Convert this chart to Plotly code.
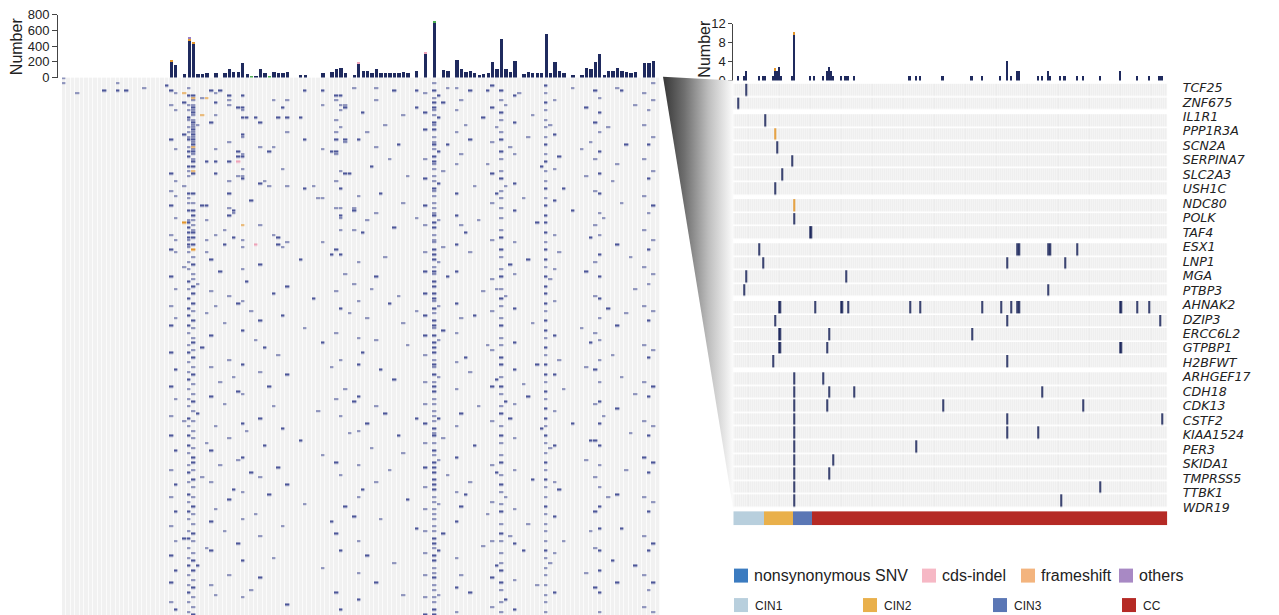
import numpy as np
import plotly.graph_objects as go

W, H = 1279, 624
FONT = "Liberation Sans, Arial, sans-serif"

# ------------------------------------------------------------------
# Right panel (zoomed oncoprint): genes, stages, mutations
# ------------------------------------------------------------------
genes = ["TCF25", "ZNF675", "IL1R1", "PPP1R3A", "SCN2A", "SERPINA7", "SLC2A3", "USH1C",
         "NDC80", "POLK", "TAF4", "ESX1", "LNP1", "MGA", "PTBP3", "AHNAK2", "DZIP3",
         "ERCC6L2", "GTPBP1", "H2BFWT", "ARHGEF17", "CDH18", "CDK13", "CSTF2", "KIAA1524",
         "PER3", "SKIDA1", "TMPRSS5", "TTBK1", "WDR19"]
gene_group_sizes = [2, 6, 3, 4, 5, 10]

stage_names = ["CIN1", "CIN2", "CIN3", "CC"]
stage_sizes = [15, 14, 9, 172]
stage_colors = ["#b8cfdd", "#e9b04b", "#5b77b5", "#b52a25"]

# sample indices carrying a nonsynonymous SNV, one list per gene (same order as genes)
right_snv = [
    [6], [2], [15], [], [21], [28], [23], [20], [], [29], [37],
    [12, 137, 138, 152, 153, 166],
    [14, 132, 160],
    [6, 54],
    [5, 152],
    [22, 39, 52, 55, 85, 90, 120, 129, 134, 137, 138, 187, 195, 201],
    [20, 132, 206],
    [22, 46, 115],
    [22, 45, 187],
    [19, 132],
    [29, 43],
    [29, 46, 58, 149],
    [29, 45, 101, 169],
    [29, 132, 207],
    [29, 132, 147],
    [29, 88],
    [29, 48],
    [29, 46],
    [29, 177],
    [29, 158],
]
# sample indices carrying a frameshift, one list per gene
right_frameshift = [[], [], [], [20], [], [], [], [], [29], [], [],
                    [], [], [], [], [], [], [], [], [], [], [], [], [], [], [], [], [], [], []]

# per-sample mutation counts (top bar chart of right panel)
right_bar_sample = [2, 5, 6, 12, 14, 15, 19, 20, 21, 22, 23, 28, 29, 37, 39, 43, 45, 46, 47, 48,
                    52, 54, 55, 58, 85, 88, 90, 101, 115, 120, 129, 132, 134, 137, 138, 147, 149,
                    152, 153, 158, 160, 166, 169, 177, 187, 195, 201, 206, 207]
right_bar_snv = [1, 1, 2, 1, 1, 1, 1, 2, 2, 3, 1, 1, 9.6, 1, 1, 1, 2, 3, 2, 1,
                 1, 1, 1, 1, 1, 1, 1, 1, 1, 1, 1, 4.3, 1, 2, 2, 1, 1,
                 2, 1, 1, 1, 1, 1, 1, 2, 1, 1, 1, 1]
right_bar_fs = [0, 0, 0, 0, 0, 0, 0, 0.8, 0, 0, 0, 0, 0.7, 0, 0, 0, 0, 0, 0, 0,
                0, 0, 0, 0, 0, 0, 0, 0, 0, 0, 0, 0, 0, 0, 0, 0, 0,
                0, 0, 0, 0, 0, 0, 0, 0, 0, 0, 0, 0]

# ------------------------------------------------------------------
# Left panel (full oncoprint overview)
# ------------------------------------------------------------------
N_LEFT_SAMPLES = 134
N_LEFT_GENES = 220

left_bar_sample = [24, 25, 27, 28, 29, 30, 31, 32, 34, 36, 37, 38, 39, 40, 41, 42, 43, 44, 45, 46,
                   47, 48, 49, 50, 53, 54, 58, 60, 61, 62, 63, 65, 66, 67, 68, 69, 70, 71, 72, 73,
                   74, 75, 76, 77, 79, 81, 83, 85, 86, 88, 89, 90, 91, 92, 93, 94, 95, 96, 97, 98,
                   99, 100, 101, 103, 104, 105, 106, 107, 108, 109, 110, 111, 112, 114, 116, 117,
                   118, 119, 120, 121, 122, 123, 124, 125, 126, 127, 128, 130, 131, 132]
left_bar_snv = [215, 160, 50, 470, 430, 50, 50, 60, 60, 60, 110, 70, 80, 190, 50, 0, 30, 110, 60, 0,
                70, 60, 60, 80, 40, 40, 60, 70, 110, 120, 60, 40, 180, 90, 90, 60, 110, 60, 60, 60,
                60, 60, 80, 60, 90, 310, 710, 100, 90, 230, 110, 70, 90, 60, 40, 50, 60, 200, 110, 500,
                110, 80, 210, 50, 80, 60, 60, 60, 560, 60, 200, 90, 60, 40, 40, 130,
                110, 200, 310, 40, 90, 90, 130, 90, 70, 60, 80, 190, 190, 210]
left_bar_fs_sample = [24, 28, 29]
left_bar_fs = [15, 35, 30]
left_bar_others_sample = [28]
left_bar_others = [15]
left_bar_indel_sample = [66, 81]
left_bar_indel = [10, 10]
left_bar_green_sample = [42, 46, 83]
left_bar_green = [30, 30, 12]

# (sample, [gene rows]) for nonsynonymous SNVs in the overview
left_snv_marks = [
    (0, [0, 2]), (3, [6]), (9, [5]), (12, [2, 5]), (14, [5]), (18, [4]), (23, [3]),
    (24, [5, 11, 25, 39, 46, 52, 64, 70, 81, 93, 101, 112, 126, 138, 146, 160, 171, 183, 195, 206, 214]),
    (25, [6, 13, 29, 42, 48, 57, 66, 71, 86, 98, 119, 131, 152, 166, 177, 189, 201, 217]),
    (27, [10, 23, 44, 77, 140, 188]),
    (28, [4, 7, 11, 13, 16, 17, 20, 22, 24, 25, 28, 30, 32, 36, 38, 40, 47, 49, 51, 54, 58, 59,
          61, 63, 65, 66, 68, 69, 71, 75, 78, 83, 86, 90, 94, 97, 101, 104, 109, 112, 116, 120,
          123, 127, 131, 134, 139, 142, 146, 150, 153, 158, 161, 165, 170, 173, 177, 180, 185,
          188, 192, 196, 199, 203, 207, 210, 214, 218]),
    (29, [7, 9, 11, 12, 13, 14, 15, 17, 18, 19, 20, 21, 22, 23, 24, 25, 26, 27, 29, 30, 31, 33,
          34, 36, 39, 47, 51, 54, 56, 58, 60, 62, 63, 65, 68, 73, 76, 80, 82, 85, 88, 92, 95, 99,
          102, 106, 108, 111, 114, 118, 121, 125, 129, 132, 136, 140, 144, 147, 151, 155, 157,
          160, 164, 167, 171, 175, 178, 182, 186, 189, 194, 197, 201, 205, 208, 212, 216, 219]),
    (30, [19, 84, 137, 199]),
    (31, [8, 52, 110, 163]),
    (32, [34, 52, 58, 66, 71, 96, 149, 192]),
    (33, [5, 18, 74, 87, 105, 118, 130, 152, 165, 181, 193, 207]),
    (34, [6, 10, 15, 29, 34, 39, 64, 93, 142, 176, 211]),
    (35, [5, 79, 124, 158]),
    (36, [62, 68, 100, 133, 185]),
    (37, [7, 9, 11, 26, 34, 42, 47, 53, 56, 89, 115, 147, 172, 203]),
    (38, [54, 55, 65, 122, 168]),
    (39, [12, 30, 32, 40, 92, 128, 156, 190]),
    (40, [7, 12, 13, 16, 23, 24, 31, 32, 37, 40, 41, 66, 69, 78, 91, 103, 117, 129, 141, 155,
          169, 180, 197, 212]),
    (41, [16, 83, 144]), (42, [50, 95, 161, 209]), (43, [16, 107, 178]),
    (44, [18, 28, 43, 60, 76, 99, 120, 139, 163, 187, 204]),
    (45, [42, 110, 150]), (46, [30, 44, 126, 170]), (47, [9, 28, 64, 88, 134, 196]),
    (48, [16, 65, 68, 113, 159]), (49, [12, 37, 69, 97, 143, 183]),
    (50, [9, 16, 22, 44, 67, 85, 121, 166, 215]),
    (53, [16, 74, 148]), (54, [5, 25, 45, 102, 174]), (56, [44, 90]), (57, [49, 136]),
    (58, [5, 11, 29, 49, 67, 108, 154, 200]), (60, [30, 72, 118, 181]),
    (61, [7, 9, 17, 22, 25, 30, 31, 42, 53, 70, 87, 104, 131, 157, 186, 210]),
    (62, [7, 11, 13, 20, 38, 45, 53, 56, 57, 62, 72, 94, 115, 138, 162, 193, 217]),
    (63, [11, 12, 25, 26, 39, 80, 127, 175]), (64, [39, 96, 145]),
    (65, [4, 53, 54, 62, 84, 132, 179]),
    (66, [25, 48, 75, 91, 106, 117, 130, 144, 158, 171, 189, 202, 213]),
    (67, [14, 63, 112, 168]), (68, [22, 58, 98, 141, 195]), (69, [36, 86, 151]),
    (70, [4, 9, 28, 55, 81, 107, 134, 165, 206]), (71, [47, 119, 180]), (72, [19, 73, 137]),
    (73, [33, 92, 160]), (74, [5, 61, 123, 198]), (75, [27, 89, 146]),
    (76, [15, 51, 100, 153, 211]), (77, [40, 109, 172]), (79, [5, 12, 57, 95, 139, 184]),
    (81, [6, 14, 21, 33, 41, 52, 60, 71, 79, 88, 97, 105, 113, 124, 133, 141, 149, 159, 167,
          176, 185, 194, 203, 212, 219]),
    (83, [2, 5, 8, 10, 12, 13, 15, 18, 19, 21, 24, 26, 27, 29, 32, 34, 35, 37, 40, 42, 45, 46,
          48, 51, 53, 55, 56, 59, 61, 64, 66, 67, 70, 72, 74, 77, 79, 80, 83, 85, 88, 90, 91, 94,
          96, 99, 101, 102, 105, 108, 110, 112, 115, 117, 118, 121, 124, 126, 128, 131, 133, 136,
          138, 140, 143, 145, 146, 149, 152, 154, 157, 159, 161, 164, 166, 168, 171, 173, 176,
          178, 180, 183, 185, 188, 190, 192, 195, 197, 200, 202, 204, 207, 209, 212, 214, 217, 219]),
    (84, [7, 16, 30, 43, 58, 75, 93, 107, 122, 139, 156, 174, 193, 211]),
    (85, [10, 38, 69, 103, 147, 186]), (86, [4, 27, 81, 162]),
    (88, [4, 13, 22, 35, 47, 56, 68, 79, 92, 104, 116, 127, 142, 155, 169, 181, 196, 208, 218]),
    (89, [9, 31, 60, 98, 137, 175, 203]), (90, [19, 63, 114, 170]),
    (91, [5, 25, 71, 120, 165, 210]), (92, [44, 97, 150]), (93, [58, 134]), (94, [16, 87, 191]),
    (95, [5, 35, 109, 178]),
    (96, [3, 12, 26, 39, 51, 66, 82, 95, 111, 126, 140, 158, 173, 189, 204, 216]),
    (97, [20, 47, 86, 123, 161, 199]),
    (98, [5, 9, 14, 17, 22, 25, 30, 33, 38, 41, 46, 49, 53, 57, 62, 65, 70, 73, 78, 81, 86, 90,
          93, 98, 101, 106, 109, 114, 117, 122, 126, 129, 134, 137, 142, 146, 149, 154, 157, 162,
          166, 169, 174, 177, 182, 186, 189, 194, 198, 201, 206, 209, 214, 218]),
    (99, [11, 44, 89, 132, 171, 213]), (100, [28, 76, 139, 187]),
    (101, [7, 18, 31, 43, 54, 67, 80, 94, 108, 119, 133, 147, 160, 176, 190, 205, 217]),
    (102, [6]), (103, [49, 125, 193]), (104, [24, 74, 130, 182]), (105, [15, 100, 164]),
    (106, [59, 117, 207]), (107, [36, 143]),
    (108, [3, 6, 10, 13, 17, 20, 24, 27, 31, 34, 38, 42, 45, 49, 52, 56, 59, 63, 67, 70, 74, 77,
           81, 85, 88, 92, 95, 99, 103, 106, 110, 113, 117, 121, 124, 128, 131, 135, 139, 142, 146,
           149, 153, 157, 160, 164, 167, 171, 175, 178, 182, 185, 189, 193, 196, 200, 203, 207,
           211, 214, 218]),
    (109, [19, 82, 151, 198]),
    (110, [9, 23, 37, 50, 64, 78, 91, 105, 121, 136, 150, 165, 179, 194, 210]),
    (111, [32, 71, 115, 168]), (112, [45, 127, 189]), (114, [4, 54, 141]), (116, [29, 102]),
    (117, [12, 40, 79, 118, 156, 202]), (118, [26, 65, 108, 148, 185]),
    (119, [5, 18, 33, 46, 60, 75, 89, 104, 119, 133, 148, 163, 177, 192, 208]),
    (120, [8, 14, 22, 30, 39, 47, 55, 64, 72, 81, 90, 98, 107, 115, 124, 132, 141, 150, 158,
           167, 175, 184, 193, 201, 210, 218]),
    (121, [57, 138]), (122, [20, 94, 171]), (123, [42, 113, 197]),
    (124, [4, 35, 68, 101, 135, 170, 206]), (125, [5, 51, 122, 184]), (126, [27, 96, 160]),
    (127, [73, 145]), (128, [11, 86, 129, 199]),
    (130, [6, 19, 33, 48, 62, 77, 93, 109, 124, 140, 155, 171, 187, 203, 216]),
    (131, [13, 27, 41, 55, 70, 84, 99, 114, 130, 146, 161, 177, 193, 209]),
    (132, [2, 9, 24, 38, 52, 66, 80, 95, 111, 126, 142, 157, 173, 190, 206, 218]),
]
left_fs_marks = [(27, [6, 59]), (29, [8, 28, 38, 70]), (31, [15]), (32, [8]), (40, [60])]
left_indel_marks = [(39, [34]), (43, [68])]

# ------------------------------------------------------------------
# colours
# ------------------------------------------------------------------
NAVY = "#1f2a5e"
NAVY_L = "#4d5799"
ORANGE = "#e3962b"
PINK = "#eea3b8"
PURPLE = "#9b7fc2"
GREEN = "#4caf50"
GRID_BG = "#ececec"


def px(x):
    return x / W


def py(y):
    # y given in screen pixels of the target picture; mapped to figure paper coords
    yf = (y - 6.3) / 0.977
    return 1 - yf / H


fig = go.Figure()

# ---------------- left overview heatmap ----------------
left_bg = np.zeros((N_LEFT_GENES, N_LEFT_SAMPLES))
left_mut = np.full((N_LEFT_GENES, N_LEFT_SAMPLES), np.nan)
for col, rows in left_snv_marks:
    for r in rows:
        left_mut[r, col] = 1
for col, rows in left_fs_marks:
    for r in rows:
        left_mut[r, col] = 2
for col, rows in left_indel_marks:
    for r in rows:
        left_mut[r, col] = 3

fig.add_trace(go.Heatmap(z=left_bg, x=list(range(N_LEFT_SAMPLES)), y=list(range(N_LEFT_GENES)),
                         colorscale=[[0, "#f1f1f1"], [1, "#f1f1f1"]], zmin=0, zmax=1,
                         showscale=False, xgap=0.7, ygap=0, hoverinfo="skip",
                         xaxis="x", yaxis="y"))
fig.add_trace(go.Heatmap(z=left_mut, x=list(range(N_LEFT_SAMPLES)), y=list(range(N_LEFT_GENES)),
                         colorscale=[[0, NAVY_L], [0.25, NAVY_L], [0.25, ORANGE], [0.5, ORANGE],
                                     [0.5, PINK], [0.75, PINK], [0.75, PURPLE], [1, PURPLE]],
                         zmin=0.5, zmax=4.5, showscale=False, xgap=0.6, ygap=0.7,
                         hoverinfo="skip", xaxis="x", yaxis="y"))

# ---------------- left top bars ----------------
for xs, vals, col in [(left_bar_sample, left_bar_snv, NAVY),
                      (left_bar_fs_sample, left_bar_fs, ORANGE),
                      (left_bar_others_sample, left_bar_others, PURPLE),
                      (left_bar_indel_sample, left_bar_indel, PINK),
                      (left_bar_green_sample, left_bar_green, GREEN)]:
    fig.add_trace(go.Bar(x=xs, y=vals, marker=dict(color=col, line=dict(width=0)), width=0.75,
                         xaxis="x", yaxis="y2", hoverinfo="skip"))

# ---------------- right heatmap ----------------
n_right = sum(stage_sizes)
GAP = 0.25
row_pos = []
i = 0
for g, size in enumerate(gene_group_sizes):
    for _ in range(size):
        row_pos.append(i + GAP * g)
        i += 1

right_mut = np.full((len(genes), n_right), np.nan)
for gi, samples in enumerate(right_snv):
    for s in samples:
        right_mut[gi, s] = 1
for gi, samples in enumerate(right_frameshift):
    for s in samples:
        right_mut[gi, s] = 2

start = 0
for size in gene_group_sizes:
    sl = slice(start, start + size)
    fig.add_trace(go.Heatmap(z=np.zeros((size, n_right)), x=list(range(n_right)), y=row_pos[sl],
                             colorscale=[[0, GRID_BG], [1, GRID_BG]], zmin=0, zmax=1,
                             showscale=False, xgap=0.6, ygap=1.6, hoverinfo="skip",
                             xaxis="x3", yaxis="y3"))
    fig.add_trace(go.Heatmap(z=right_mut[sl], x=list(range(n_right)), y=row_pos[sl],
                             colorscale=[[0, NAVY], [0.5, NAVY], [0.5, ORANGE], [1, ORANGE]],
                             zmin=0.5, zmax=2.5, showscale=False, xgap=0.2, ygap=1.6,
                             hoverinfo="skip", xaxis="x3", yaxis="y3"))
    start += size

# gene labels (evenly spaced axis)
fig.add_trace(go.Scatter(x=[0] * len(genes), y=list(range(len(genes))), mode="markers",
                         marker=dict(opacity=0), hoverinfo="skip", xaxis="x3", yaxis="y6"))

# ---------------- right top bars ----------------
fig.add_trace(go.Bar(x=right_bar_sample, y=right_bar_snv, marker=dict(color=NAVY, line=dict(width=0)),
                     width=0.8, xaxis="x3", yaxis="y4", hoverinfo="skip"))
fig.add_trace(go.Bar(x=right_bar_sample, y=right_bar_fs, marker=dict(color=ORANGE, line=dict(width=0)),
                     width=0.8, xaxis="x3", yaxis="y4", hoverinfo="skip"))

# ---------------- stage colour bar ----------------
stage_of_sample = []
for k, size in enumerate(stage_sizes):
    stage_of_sample += [k] * size
cs = []
for k, c in enumerate(stage_colors):
    cs += [[k / 4, c], [(k + 1) / 4, c]]
fig.add_trace(go.Heatmap(z=[stage_of_sample], x=list(range(n_right)), y=[0], colorscale=cs,
                         zmin=-0.5, zmax=3.5, showscale=False, hoverinfo="skip",
                         xaxis="x3", yaxis="y5"))

# ---------------- zoom funnel (decoration) ----------------
L_RIGHT = 660
R_LEFT = 733.3
fy = [py(v) for v in (76, 80, 509, 76)]
fig.add_trace(go.Scatter(x=[L_RIGHT + 3, R_LEFT, R_LEFT, L_RIGHT + 3],
                         y=fy, mode="lines", line=dict(width=0),
                         fill="toself",
                         fillgradient=dict(type="horizontal",
                                           colorscale=[[0, "rgb(55,55,55)"], [0.3, "rgb(110,110,110)"],
                                                       [0.65, "rgb(190,190,190)"], [1, "rgb(252,252,252)"]]),
                         hoverinfo="skip", xaxis="x7", yaxis="y7"))

axis_common = dict(showgrid=False, zeroline=False)
fig.update_layout(
    width=W, height=H, margin=dict(l=0, r=0, t=0, b=0),
    paper_bgcolor="white", plot_bgcolor="rgba(0,0,0,0)",
    barmode="stack", bargap=0, showlegend=False,
    font=dict(family=FONT, color="#222"),
    xaxis=dict(domain=[px(62), px(L_RIGHT)], range=[-0.5, N_LEFT_SAMPLES - 0.5],
               visible=False, anchor="y", **axis_common),
    yaxis=dict(domain=[0, py(76.8)], range=[N_LEFT_GENES - 0.5, -0.5], visible=False,
               anchor="x", **axis_common),
    yaxis2=dict(domain=[py(77), py(14)], range=[0, 800], anchor="free", position=px(57),
                showline=True, linecolor="#444", linewidth=1, ticks="outside", ticklen=5,
                tickcolor="#444", tickvals=[0, 200, 400, 600, 800], tickfont=dict(size=13),
                **axis_common),
    xaxis3=dict(domain=[px(R_LEFT), px(1167.3)], range=[-0.5, n_right - 0.5], visible=False,
                anchor="y3", **axis_common),
    yaxis3=dict(domain=[py(508), py(83)], range=[row_pos[-1] + 0.5, -0.5], visible=False,
                anchor="x3", **axis_common),
    yaxis4=dict(domain=[py(80), py(23)], range=[0, 12], anchor="x3", showline=True,
                linecolor="#444", linewidth=1, ticks="outside", ticklen=4, tickcolor="#444",
                tickvals=[0, 4, 8, 12], tickfont=dict(size=13), **axis_common),
    yaxis5=dict(domain=[py(525), py(511)], range=[-0.5, 0.5], visible=False, anchor="x3",
                **axis_common),
    yaxis6=dict(overlaying="y3", side="right", anchor="x3", range=[29.067, -0.277],
                tickvals=list(range(len(genes))), ticktext=genes, ticks="outside", ticklen=12,
                tickcolor="rgba(0,0,0,0)", showline=False,
                tickfont=dict(family="DejaVu Sans, Liberation Sans, sans-serif", size=12.6,
                              style="italic", color="#222"), **axis_common),
    xaxis7=dict(domain=[0, 1], range=[0, W], visible=False, anchor="y7", **axis_common),
    yaxis7=dict(domain=[0, 1], range=[0, 1], visible=False, anchor="x7", **axis_common),
)

annotations = [
    dict(x=px(16), y=py(45.5), text="Number", textangle=-90, font=dict(size=16)),
    dict(x=px(705), y=py(48), text="Number", textangle=-90, font=dict(size=16)),
]
shapes = []

legend_mut = [("nonsynonymous SNV", "#3b7bc0", 734), ("cds-indel", "#f6b8c5", 922),
              ("frameshift", "#f3b47e", 1021), ("others", "#a889c4", 1119)]
for label, col, x0 in legend_mut:
    shapes.append(dict(type="rect", xref="paper", yref="paper", x0=px(x0), x1=px(x0 + 14),
                       y0=py(582.5), y1=py(568.5), fillcolor=col, line=dict(width=0)))
    annotations.append(dict(x=px(x0 + 18), y=py(575.5), text=label, xanchor="left",
                            font=dict(size=16)))

legend_stage_x = [734, 863, 993, 1122]
for name, col, x0 in zip(stage_names, stage_colors, legend_stage_x):
    shapes.append(dict(type="rect", xref="paper", yref="paper", x0=px(x0), x1=px(x0 + 14),
                       y0=py(612), y1=py(598), fillcolor=col, line=dict(width=0)))
    annotations.append(dict(x=px(x0 + 19), y=py(605.5), text=name, xanchor="left",
                            font=dict(size=12)))

for a in annotations:
    a.setdefault("xref", "paper")
    a.setdefault("yref", "paper")
    a.setdefault("showarrow", False)
    a.setdefault("yanchor", "middle")
    a.setdefault("xanchor", "center")

fig.update_layout(annotations=annotations, shapes=shapes)

fig.write_html("out.html", config={"displayModeBar": False},
               post_script="document.body.style.margin='0';document.body.style.overflow='hidden';")
